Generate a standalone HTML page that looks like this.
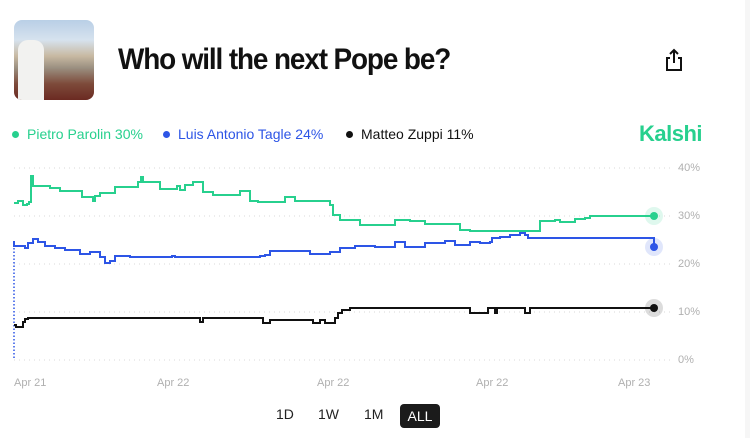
<!DOCTYPE html>
<html><head><meta charset="utf-8"><style>
html,body{margin:0;padding:0;background:#fff;}
body{width:750px;height:438px;position:relative;overflow:hidden;font-family:"Liberation Sans",sans-serif;}
.strip{position:absolute;right:0;top:0;width:5px;height:438px;background:#f6f6f6;}
.img{position:absolute;left:14px;top:20px;width:80px;height:80px;border-radius:8px;overflow:hidden;
background:linear-gradient(180deg,#b9cfe6 0%,#d6e2ee 25%,#c8b9a2 45%,#9a8f80 60%,#7d4a3a 80%,#6b2a22 100%);}
.img .man{position:absolute;left:4px;top:20px;width:26px;height:60px;background:#f2f2f0;border-radius:10px 10px 0 0;}
.title{position:absolute;left:118px;top:43px;font-size:30px;font-weight:bold;color:#111;letter-spacing:-1.2px;transform:scaleX(0.93);transform-origin:left;}
.legend{position:absolute;top:126px;font-size:14px;}
.dot{display:inline-block;width:7px;height:7px;border-radius:50%;margin-right:8px;vertical-align:1px;}
.kalshi{position:absolute;left:639px;top:121px;font-size:22px;font-weight:bold;color:#27d08e;letter-spacing:-0.5px;}
.ax{position:absolute;font-size:11px;color:#b0b0b0;}
.btn{position:absolute;top:406px;font-size:14px;color:#222;}
.all{position:absolute;left:400px;top:404px;width:40px;height:24px;background:#1b1b1b;color:#fff;border-radius:4px;font-size:14px;text-align:center;line-height:24px;}
</style></head><body>
<div class="strip"></div>
<div class="img"><div class="man"></div></div>
<div class="title">Who will the next Pope be?</div>
<svg style="position:absolute;left:664px;top:48px" width="20" height="24" viewBox="0 0 20 24"><path d="M10 2V15M6 6L10 2L14 6M6 10H3V22H17V10H14" fill="none" stroke="#111" stroke-width="2"/></svg>
<div class="legend" style="left:12px;color:#27d08e"><span class="dot" style="background:#27d08e"></span>Pietro Parolin 30%</div>
<div class="legend" style="left:163px;color:#2d55e6"><span class="dot" style="background:#2d55e6"></span>Luis Antonio Tagle 24%</div>
<div class="legend" style="left:346px;color:#111"><span class="dot" style="background:#111"></span>Matteo Zuppi 11%</div>
<div class="kalshi">Kalshi</div>
<svg style="position:absolute;left:0;top:0" width="750" height="438">
<g stroke="#d8d8d8" stroke-width="1" stroke-dasharray="1 4">
<line x1="14" y1="168" x2="672" y2="168"/><line x1="14" y1="216" x2="672" y2="216"/><line x1="14" y1="264" x2="672" y2="264"/><line x1="14" y1="312" x2="672" y2="312"/><line x1="14" y1="360" x2="672" y2="360"/>
</g>
<line x1="14" y1="241" x2="14" y2="360" stroke="#2d55e6" stroke-width="1.5" stroke-dasharray="1.5 2"/>
<path fill="none" stroke="#27d08e" stroke-width="2" d="M14 203H18V201H23V205H27V204H29V202H31V176H33V186H50V188H60V191H82V197H93V201H95V196H100V193H115V187H138V182H141V177H143V182H160V189H177V186H180V190H185V185H193V182H203V192H213V195H240V191H250V201H258V202H285V197H295V201H330V205H333V215H340V220H360V225H375V225H395V220H410V221H425V224H460V230H470V231H540V221H555V220H560V222H575V219H585V218H590V216H654"/>
<path fill="none" stroke="#2d55e6" stroke-width="2" d="M14 241V246H25V248H28V243H33V239H38V242H45V246H55V248H65V250H80V254H90V252H100V257H105V263H110V261H115V256H130V257H172V256H175V257H260V256H265V255H270V251H290V251H310V254H320V254H330V252H340V248H355V246H375V247H395V242H405V247H420V247H425V243H445V241H455V245H470V242H480V243H490V242H492V238H500V237H510V235H520V233H525V235H528V238H654V247"/>
<path fill="none" stroke="#111" stroke-width="2" d="M14 325H16V327H23V322H25V319H28V318H200V322H203V318H263V323H270V320H275V320H313V323H320V320H325V323H335V318H338V313H342V310H350V308H470V313H488V308H495V313H497V308H525V313H530V308H654"/>
<circle cx="654" cy="216" r="9" fill="#27d08e" opacity="0.15"/><circle cx="654" cy="216" r="4" fill="#27d08e"/>
<circle cx="654" cy="247" r="9" fill="#2d55e6" opacity="0.15"/><circle cx="654" cy="247" r="4" fill="#2d55e6"/>
<circle cx="654" cy="308" r="9" fill="#111" opacity="0.15"/><circle cx="654" cy="308" r="4" fill="#111"/>
</svg>
<div class="ax" style="left:678px;top:162px">40%</div>
<div class="ax" style="left:678px;top:210px">30%</div>
<div class="ax" style="left:678px;top:258px">20%</div>
<div class="ax" style="left:678px;top:306px">10%</div>
<div class="ax" style="left:678px;top:354px">0%</div>
<div class="ax" style="left:14px;top:377px">Apr 21</div>
<div class="ax" style="left:157px;top:377px">Apr 22</div>
<div class="ax" style="left:317px;top:377px">Apr 22</div>
<div class="ax" style="left:476px;top:377px">Apr 22</div>
<div class="ax" style="left:618px;top:377px">Apr 23</div>
<div class="btn" style="left:276px">1D</div>
<div class="btn" style="left:318px">1W</div>
<div class="btn" style="left:364px">1M</div>
<div class="all">ALL</div>
</body></html>
